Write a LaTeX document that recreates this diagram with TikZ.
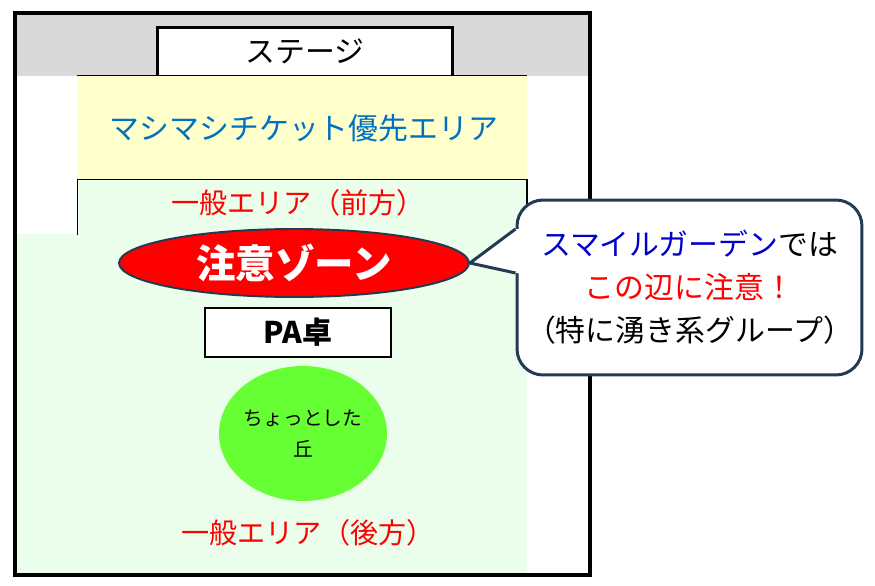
\documentclass[tikz,border=0pt]{standalone}
\usepackage{fontspec}
\setmainfont{Noto Sans CJK JP}
\usetikzlibrary{%
  positioning
 ,calc
 ,shapes
}
\definecolor{stagegray}{RGB}{217,217,217}
\definecolor{vipyellow}{RGB}{255,255,204}
\definecolor{floorgreen}{RGB}{235,253,235}
\definecolor{vipblue}{RGB}{0,112,192}
\definecolor{slate}{RGB}{36,58,84}
\definecolor{hillgreen}{RGB}{102,255,51}
\definecolor{smileblue}{RGB}{0,0,204}
\tikzstyle{plan}=[x=0.02cm,y=-0.02cm,inner sep=0pt]
\tikzstyle{stg}=[rectangle,draw=black,line width=1.7pt,fill=white,minimum width=5.92cm,minimum height=0.98cm,font=\fontsize{17}{20}\selectfont]
\tikzstyle{lbl}=[text=red,font=\fontsize{16}{19}\selectfont]
\tikzstyle{vipl}=[text=vipblue,font=\fontsize{17}{20}\selectfont]
\tikzstyle{warn}=[ellipse,draw=slate,line width=1.1pt,fill=red,text=white,minimum width=7cm,minimum height=1.36cm,font=\fontsize{22.5}{26}\selectfont\bfseries]
\tikzstyle{desk}=[rectangle,draw=black,line width=1.1pt,fill=white,minimum width=3.72cm,minimum height=0.98cm,font=\fontsize{17}{20}\selectfont\bfseries]
\tikzstyle{hill}=[ellipse,fill=hillgreen,minimum width=3.36cm,minimum height=2.7cm,align=center,font=\fontsize{11.2}{18}\selectfont]
\tikzstyle{bub}=[rectangle,rounded corners=0.52cm,draw=slate,line width=1.7pt,fill=white,minimum width=6.9cm,minimum height=3.5cm,align=center,font=\fontsize{17}{24.5}\selectfont]

\begin{document}
\begin{tikzpicture}[plan]
      \useasboundingbox (0,0) rectangle (875,585);
      % floor plan
      \fill[stagegray] (15,13) rectangle (590,76);
      \node[stg] (stage) at (305,51.5) {ステージ};
      \fill[vipyellow] (77,75.5) rectangle (527,178.5);
      \draw[line width=0.6pt] (77,75.5) -- (527,75.5);
      \fill[floorgreen] (17,234) rectangle (527,573);
      \filldraw[fill=floorgreen,draw=black,line width=0.6pt]
        (77.5,234.5) -- (77.5,179.5) -- (527,179.5) -- (527,234.5);
      \draw[line width=2.3pt] (15,13) rectangle (590,575);
      % labels
      \node[vipl] (vip) at (304,128) {マシマシチケット優先エリア};
      \node[lbl] (front) at (298,203) {一般エリア（前方）};
      \node[lbl] (rear) at (308,533) {一般エリア（後方）};
      \node[warn] (zone) at (294,263) {注意ゾーン};
      \node[desk] (pa) at (298,332.5) {PA卓};
      \node[hill] (oka) at (303,433.5) {ちょっとした\\丘};
      % callout
      \node[bub] (bubble) at (689.5,287.5)
        {\textcolor{smileblue}{スマイルガーデン}では\\\textcolor{red}{この辺に注意！}\\（特に湧き系グループ）};
      \coordinate (b_up) at ($(bubble.west)+(0,-58.5)$);
      \coordinate (b_dn) at ($(bubble.west)+(0,-14.5)$);
      \fill[white] (b_up) -- (zone.east) -- (b_dn) -- ++(5,0) -- ($(b_up)+(5,0)$) -- cycle;
      \draw[slate,line width=1.7pt,line join=miter] (b_up) -- (zone.east) -- (b_dn);
    \end{tikzpicture}
\end{document}
